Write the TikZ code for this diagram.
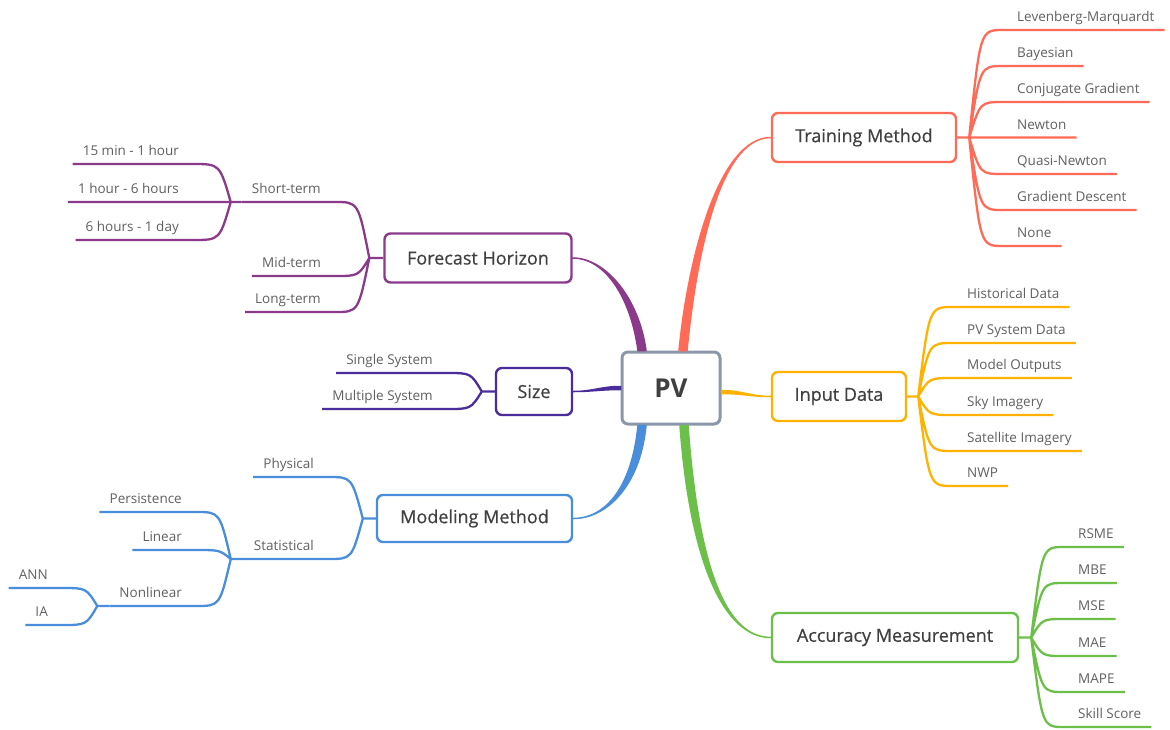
\documentclass[tikz,border=0pt]{standalone}
\usepackage{fontspec}
\setmainfont{Open Sans}
\newfontfamily\topicfont[FakeBold=0.5]{Open Sans}
\usetikzlibrary{positioning, calc}
\definecolor{pvred}{HTML}{FF6B57}
\definecolor{pvyellow}{HTML}{FFB300}
\definecolor{pvgreen}{HTML}{6CC04A}
\definecolor{pvblue}{HTML}{4A8EDB}
\definecolor{pvnavy}{HTML}{4A2C9B}
\definecolor{pvpurple}{HTML}{8B3A8B}
\definecolor{pvgray}{HTML}{8A97A8}
\definecolor{txtdark}{HTML}{404040}
\definecolor{txtgray}{HTML}{606060}

\begin{document}
\begin{tikzpicture}[
  x=1pt, y=-1pt,
  topic/.style={rectangle, rounded corners=6pt, draw=#1, line width=2.4pt, fill=white,
                minimum height=49pt, inner sep=0pt, text=txtdark, font=\topicfont\fontsize{18}{22}\selectfont},
  leaf/.style={inner xsep=10pt, inner ysep=5pt, text height=10pt, text depth=3pt,
               text=txtgray, font=\fontsize{13.5}{16}\selectfont},
  leafR/.style={leaf, anchor=south west},
  leafL/.style={leaf, anchor=south east},
  twig/.style={line width=2.3pt, draw=#1},
  twigR/.style={twig=#1, to path={.. controls ([xshift=11pt]\tikztostart |- \tikztotarget.south west) .. ([xshift=-4pt]\tikztotarget.south west) -- (\tikztotarget.south east)}},
  twigL/.style={twig=#1, to path={.. controls ([xshift=-11pt]\tikztostart |- \tikztotarget.south east) .. ([xshift=4pt]\tikztotarget.south east) -- (\tikztotarget.south west)}},
  trunk/.style={fill=#1, draw=#1, line width=1.5pt, line join=round}
]
  \useasboundingbox (0,0) rectangle (1170,729);

  \node[topic=pvgray, line width=3pt, minimum width=98pt, minimum height=72pt,
        font=\fontsize{26}{30}\selectfont\bfseries] (pv) at (671,388) {PV};
  \node[topic=pvred, minimum width=184pt] (train) at (864,137.5) {Training Method};
  \node[topic=pvyellow, minimum width=134pt] (input) at (839,396.5) {Input Data};
  \node[topic=pvgreen, minimum width=246pt] (accur) at (895,637.5) {Accuracy Measurement};
  \node[topic=pvpurple, minimum width=187pt] (horizon) at (478,258) {Forecast Horizon};
  \node[topic=pvnavy, minimum width=76pt, minimum height=47pt] (size) at (534,391.5) {Size};
  \node[topic=pvblue, minimum width=195pt, minimum height=47pt] (model) at (474.5,518.5) {Modeling Method};

  \path[trunk=pvred] ($(pv.north)+(8,0)$) .. controls +(9,-92) and +(-52,0) .. (train.west)
    .. controls +(-52,0) and +(9,-92) .. ($(pv.north)+(16,0)$) -- cycle;
  \path[trunk=pvpurple] ($(pv.north)+(-33,0)$) .. controls +(-7,-52) and +(33,0) .. (horizon.east)
    .. controls +(33,0) and +(-7,-52) .. ($(pv.north)+(-25,0)$) -- cycle;
  \path[trunk=pvblue] ($(pv.south)+(-33,0)$) .. controls +(-6,61) and +(33,0) .. (model.east)
    .. controls +(33,0) and +(-6,61) .. ($(pv.south)+(-25,0)$) -- cycle;
  \path[trunk=pvgreen] ($(pv.south)+(9,0)$) .. controls +(10,136) and +(-47,0) .. (accur.west)
    .. controls +(-47,0) and +(10,136) .. ($(pv.south)+(17,0)$) -- cycle;
  \path[trunk=pvnavy] ($(pv.west)+(0,-1.5)$) .. controls +(-20,0) and +(20,0) .. (size.east)
    .. controls +(20,0) and +(-20,0) .. ($(pv.west)+(0,1.5)$) -- cycle;
  \path[trunk=pvyellow] ($(pv.east)+(0,2.5)$) .. controls +(20,0) and +(-20,0) .. (input.west)
    .. controls +(-20,0) and +(20,0) .. ($(pv.east)+(0,5.5)$) -- cycle;

  \coordinate[right=12pt of train] (trainfan);
  \coordinate[right=11pt of input] (inputfan);
  \coordinate[right=12pt of accur] (accfan);
  \coordinate[left=14pt of horizon] (horfan);
  \coordinate[left=13pt of size] (sizefan);
  \coordinate[left=13pt of model] (modfan);

  \node[leafR] (lm) at (1007,30) {Levenberg-Marquardt};
  \node[leafR] (bay) at (1007,66) {Bayesian};
  \node[leafR] (cg) at (1007,102) {Conjugate Gradient};
  \node[leafR] (newt) at (1007,137.5) {Newton};
  \node[leafR] (qn) at (1007,174) {Quasi-Newton};
  \node[leafR] (gd) at (1007,210) {Gradient Descent};
  \node[leafR] (nonetm) at (1007,246) {None};
  \draw[twigR=pvred] (train.east) -- (trainfan) to (lm) (trainfan) to (bay) (trainfan) to (cg)
    (trainfan) to (newt) (trainfan) to (qn) (trainfan) to (gd) (trainfan) to (nonetm);

  \node[leafR] (hist) at (957,307) {Historical Data};
  \node[leafR] (pvsys) at (957,343) {PV System Data};
  \node[leafR] (mout) at (957,378) {Model Outputs};
  \node[leafR] (sky) at (957,415) {Sky Imagery};
  \node[leafR] (sat) at (957,451) {Satellite Imagery};
  \node[leafR] (nwp) at (957,486) {NWP};
  \draw[twigR=pvyellow] (input.east) -- (inputfan) to (hist) (inputfan) to (pvsys) (inputfan) to (mout)
    (inputfan) to (sky) (inputfan) to (sat) (inputfan) to (nwp);

  \node[leafR] (rsme) at (1068,547) {RSME};
  \node[leafR] (mbe) at (1068,583) {MBE};
  \node[leafR] (mse) at (1068,619) {MSE};
  \node[leafR] (mae) at (1068,656) {MAE};
  \node[leafR] (mape) at (1068,692) {MAPE};
  \node[leafR] (skill) at (1068,727) {Skill Score};
  \draw[twigR=pvgreen] (accur.east) -- (accfan) to (rsme) (accfan) to (mbe) (accfan) to (mse)
    (accfan) to (mae) (accfan) to (mape) (accfan) to (skill);

  \node[leafL] (short) at (331,202) {Short-term};
  \node[leafL] (mid) at (331,276) {Mid-term};
  \node[leafL] (long) at (331,312) {Long-term};
  \coordinate[left=11pt of short.south west] (shortfan);
  \node[leafL] (h1) at (189,164) {15 min - 1 hour};
  \node[leafL] (h2) at (189,202) {1 hour - 6 hours};
  \node[leafL] (h3) at (189,240) {6 hours - 1 day};
  \draw[twigL=pvpurple] (horizon.west) -- (horfan) to (short) (horfan) to (mid) (horfan) to (long);
  \draw[twigL=pvpurple] (short.south west) -- (shortfan) to (h1) (shortfan) to (h2) (shortfan) to (h3);

  \node[leafL] (single) at (443,373) {Single System};
  \node[leafL] (multi) at (443,409) {Multiple System};
  \draw[twigL=pvnavy] (size.west) -- (sizefan) to (single) (sizefan) to (multi);

  \node[leafL] (phys) at (324,477) {Physical};
  \node[leafL] (stat) at (324,559) {Statistical};
  \coordinate[left=13pt of stat.south west] (statfan);
  \node[leafL] (pers) at (192,512) {Persistence};
  \node[leafL] (lin) at (192,550) {Linear};
  \node[leafL] (nonlin) at (192,606) {Nonlinear};
  \coordinate[left=12pt of nonlin.south west] (nonlinfan);
  \node[leafL] (ann) at (58,588) {ANN};
  \node[leafL] (ia) at (58,625) {IA};
  \draw[twigL=pvblue] (model.west) -- (modfan) to (phys) (modfan) to (stat);
  \draw[twigL=pvblue] (stat.south west) -- (statfan) to (pers) (statfan) to (lin) (statfan) to (nonlin);
  \draw[twigL=pvblue] (nonlin.south west) -- (nonlinfan) to (ann) (nonlinfan) to (ia);
\end{tikzpicture}
\end{document}
